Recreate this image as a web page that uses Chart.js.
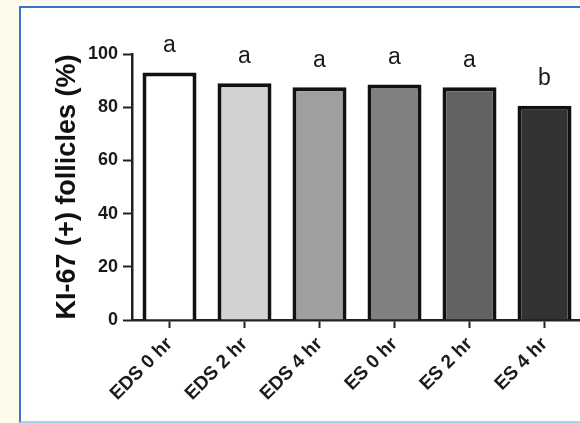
<!DOCTYPE html>
<html>
<head>
<meta charset="utf-8">
<script src="https://cdn.jsdelivr.net/npm/chart.js@4/dist/chart.umd.min.js"></script>
<style>
  html, body { margin: 0; padding: 0; width: 580px; height: 423px; overflow: hidden; background: #fdfbec; }
  #frame {
    position: absolute; left: 19px; top: 6px; width: 600px; height: 413px;
    background: #fffffe;
    border-left: 2px solid #3b73cf; border-top: 2px solid #3b73cf; border-bottom: 2px solid #a9d2f2;
  }
  #myChart { position: absolute; left: 0; top: 0; }
</style>
</head>
<body>
<div id="frame"></div>
<canvas id="myChart" width="600" height="423"></canvas>
<script>
// Ki-67 positive follicles per group
var groups = ['EDS 0 hr', 'EDS 2 hr', 'EDS 4 hr', 'ES 0 hr', 'ES 2 hr', 'ES 4 hr'];
var values = [93, 89, 87.5, 88.5, 87.5, 80.5];
var letters = ['a', 'a', 'a', 'a', 'a', 'b'];
var yTicks = [0, 20, 40, 60, 80, 100];
var fills = ['#ffffff', '#d2d2d2', '#9f9fa1', '#808080', '#626262', '#323232'];

// letters above the bars
var letterPlugin = {
    id: 'letters',
    afterDatasetsDraw: function (chart) {
        var ctx = chart.ctx;
        var meta = chart.getDatasetMeta(0);
        ctx.save();
        ctx.font = '23px "Liberation Sans", Arial, sans-serif';
        ctx.fillStyle = '#1a1a1a';
        ctx.textAlign = 'center';
        ctx.textBaseline = 'middle';
        meta.data.forEach(function (bar, i) {
            ctx.fillText(letters[i], bar.x, bar.y - 27);
        });
        ctx.restore();
    }
};

var ctx = document.getElementById('myChart').getContext('2d');
var myChart = new Chart(ctx, {
    type: 'bar',
    data: {
        labels: groups,
        datasets: [{
            data: values,
            backgroundColor: fills,
            borderColor: '#111',
            borderWidth: 4,
            categoryPercentage: 1,
            barPercentage: 0.72
        }]
    },
    options: {
        responsive: false,
        animation: false,
        layout: { padding: { top: 54, right: 18, left: 0, bottom: 0 } },
        plugins: { legend: { display: false }, tooltip: { enabled: false } },
        scales: {
            x: {
                grid: { offset: false, drawOnChartArea: false, drawTicks: true, tickLength: 8, tickWidth: 2, tickColor: '#222' },
                border: { color: '#222', width: 2.5 },
                ticks: {
                    maxRotation: 45, minRotation: 45, padding: 5,
                    color: '#1a1a1a',
                    font: { family: '"Liberation Sans", Arial, sans-serif', size: 19, weight: 'bold' }
                },
                afterFit: function (scale) { scale.height = 103; }
            },
            y: {
                min: 0, max: 100,
                afterBuildTicks: function (scale) {
                    scale.ticks = yTicks.map(function (v) { return { value: v }; });
                },
                grid: { drawOnChartArea: false, drawTicks: true, tickLength: 9, tickWidth: 2, tickColor: '#222' },
                border: { color: '#222', width: 2.5 },
                ticks: {
                    padding: 5, color: '#1a1a1a',
                    font: { family: '"Liberation Sans", Arial, sans-serif', size: 18, weight: 'bold' }
                },
                title: {
                    display: true,
                    text: 'KI-67 (+) follicles (%)',
                    color: '#111',
                    padding: { top: 51, bottom: 0 },
                    font: { family: '"Liberation Sans", Arial, sans-serif', size: 27, weight: 'bold' }
                },
                afterFit: function (scale) { scale.width = 132; }
            }
        }
    },
    plugins: [letterPlugin]
});
</script>
</body>
</html>
